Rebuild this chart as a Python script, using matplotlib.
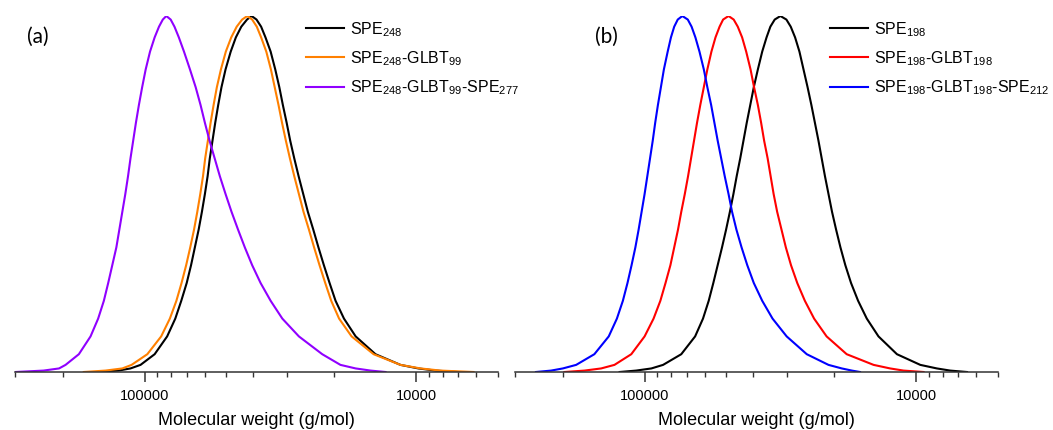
import matplotlib
matplotlib.use("Agg")
import matplotlib.pyplot as plt
from matplotlib.ticker import FixedLocator, FuncFormatter, LogLocator, NullFormatter
import numpy as np

plt.rcParams["font.family"] = "Liberation Sans"
plt.rcParams["mathtext.fontset"] = "custom"
plt.rcParams["mathtext.rm"] = "Liberation Sans"
plt.rcParams["mathtext.it"] = "Liberation Sans:italic"

# normalised intensity levels at which every trace was read (rising side, peak, falling side)
levels = [0, 0.004, 0.01, 0.02, 0.05, 0.1, 0.15, 0.2, 0.25, 0.3, 0.35, 0.4, 0.45, 0.5, 0.55, 0.6, 0.65,
          0.7, 0.75, 0.8, 0.85, 0.9, 0.94, 0.97, 0.99,
          1.0,
          0.99, 0.97, 0.94, 0.9, 0.85, 0.8, 0.75, 0.7, 0.65, 0.6, 0.55, 0.5, 0.45, 0.4, 0.35, 0.3, 0.25,
          0.2, 0.15, 0.1, 0.05, 0.02, 0.01, 0.004, 0]

# log10(M), panel (a)
logm_spe248 = [5.162, 5.096, 5.052, 5.015, 4.963, 4.917, 4.887, 4.865, 4.845, 4.829, 4.815, 4.801, 4.789,
               4.778, 4.768, 4.760, 4.750, 4.740, 4.729, 4.717, 4.702, 4.683, 4.664, 4.644, 4.623,
               4.606,
               4.588, 4.571, 4.555, 4.536, 4.519, 4.504, 4.491, 4.477, 4.464, 4.449, 4.433, 4.416, 4.399,
               4.379, 4.360, 4.340, 4.319, 4.297, 4.266, 4.223, 4.150, 4.058, 3.992, 3.929, 3.848]
logm_spe248_glbt99 = [5.224, 5.144, 5.082, 5.048, 4.990, 4.939, 4.907, 4.883, 4.864, 4.847, 4.832, 4.818, 4.806,
                      4.795, 4.785, 4.777, 4.767, 4.757, 4.746, 4.734, 4.719, 4.701, 4.681, 4.661, 4.641,
                      4.622,
                      4.604, 4.587, 4.571, 4.552, 4.535, 4.521, 4.507, 4.494, 4.480, 4.465, 4.449, 4.432, 4.415,
                      4.395, 4.376, 4.356, 4.335, 4.313, 4.284, 4.238, 4.157, 4.058, 3.984, 3.911, 3.789]
logm_spe248_glbt99_spe277 = [5.475, 5.372, 5.315, 5.291, 5.242, 5.199, 5.171, 5.150, 5.134, 5.119, 5.104, 5.093, 5.082,
                             5.071, 5.061, 5.052, 5.042, 5.032, 5.021, 5.009, 4.996, 4.980, 4.963, 4.947, 4.933,
                             4.920,
                             4.904, 4.890, 4.874, 4.855, 4.833, 4.812, 4.794, 4.778, 4.761, 4.742, 4.723, 4.702, 4.680,
                             4.656, 4.631, 4.604, 4.573, 4.536, 4.493, 4.432, 4.346, 4.279, 4.223, 4.168, 4.113]

# panel (b)
logm_spe198 = [5.092, 5.031, 4.975, 4.932, 4.865, 4.814, 4.785, 4.764, 4.747, 4.731, 4.715, 4.700, 4.686,
               4.673, 4.661, 4.648, 4.636, 4.624, 4.611, 4.598, 4.583, 4.567, 4.551, 4.537, 4.521,
               4.500,
               4.478, 4.462, 4.446, 4.430, 4.415, 4.400, 4.386, 4.373, 4.360, 4.348, 4.336, 4.323, 4.310,
               4.295, 4.279, 4.261, 4.240, 4.214, 4.182, 4.139, 4.071, 3.985, 3.924, 3.875, 3.813]
logm_spe198_glbt198 = [5.295, 5.221, 5.160, 5.111, 5.049, 5.000, 4.967, 4.942, 4.923, 4.905, 4.891, 4.877, 4.865,
                       4.852, 4.840, 4.829, 4.818, 4.807, 4.795, 4.782, 4.769, 4.754, 4.739, 4.724, 4.711,
                       4.691,
                       4.672, 4.657, 4.641, 4.626, 4.610, 4.597, 4.583, 4.571, 4.560, 4.547, 4.536, 4.525, 4.512,
                       4.496, 4.480, 4.461, 4.438, 4.410, 4.376, 4.330, 4.256, 4.157, 4.096, 4.047, 3.973]
logm_spe198_glbt198_spe212 = [5.400, 5.344, 5.301, 5.252, 5.185, 5.132, 5.102, 5.080, 5.063, 5.048, 5.034, 5.022, 5.011,
                              5.000, 4.990, 4.980, 4.970, 4.961, 4.951, 4.940, 4.929, 4.915, 4.903, 4.891, 4.878,
                              4.861,
                              4.841, 4.827, 4.813, 4.798, 4.782, 4.769, 4.755, 4.743, 4.731, 4.718, 4.705, 4.691, 4.678,
                              4.662, 4.643, 4.622, 4.598, 4.567, 4.529, 4.477, 4.403, 4.323, 4.274, 4.237, 4.207]

panels = [
    ("(a)", [
        (logm_spe248, "black", r"SPE$_{248}$"),
        (logm_spe248_glbt99, "#ff8000", r"SPE$_{248}$-GLBT$_{99}$"),
        (logm_spe248_glbt99_spe277, "#9000ff", r"SPE$_{248}$-GLBT$_{99}$-SPE$_{277}$"),
    ]),
    ("(b)", [
        (logm_spe198, "black", r"SPE$_{198}$"),
        (logm_spe198_glbt198, "#ff0000", r"SPE$_{198}$-GLBT$_{198}$"),
        (logm_spe198_glbt198_spe212, "#0000ff", r"SPE$_{198}$-GLBT$_{198}$-SPE$_{212}$"),
    ]),
]

W, H = 1053, 430
fig = plt.figure(figsize=(W / 100, H / 100), dpi=100)

axes_left = [15, 515]
axes_width = 483
legend_left = [306, 830]
label_left = [27, 595]

for i, (tag, series) in enumerate(panels):
    ax = fig.add_axes([axes_left[i] / W, 58 / H, axes_width / W, (372 - 16) / H])
    for logm, color, label in series:
        ax.plot(10 ** np.array(logm), levels, color=color, lw=1.5, label=label, solid_joinstyle="round")
    ax.set_xscale("log")
    ax.set_xlim(3e5, 5e3)
    ax.set_ylim(0, 1.0)
    ax.xaxis.set_major_locator(FixedLocator([1e5, 1e4]))
    ax.xaxis.set_major_formatter(FuncFormatter(lambda v, p: f"{v:.0f}"))
    ax.xaxis.set_minor_locator(LogLocator(base=10, subs=np.arange(2, 10)))
    ax.xaxis.set_minor_formatter(NullFormatter())
    ax.tick_params(axis="x", which="major", direction="out", length=7, width=1.1, color="#333333",
                   labelsize=10.5, pad=5)
    ax.tick_params(axis="x", which="minor", direction="out", length=3.5, width=1.0, color="#333333")
    ax.set_yticks([])
    for s in ["left", "right", "top"]:
        ax.spines[s].set_visible(False)
    ax.spines["bottom"].set_color("#333333")
    ax.spines["bottom"].set_linewidth(1.1)
    ax.set_xlabel("Molecular weight (g/mol)", fontsize=13, labelpad=7)
    ax.patch.set_alpha(0)

    ax.legend(loc="upper left", bbox_to_anchor=(legend_left[i] / W, 1 - 20 / H),
              bbox_transform=fig.transFigure, frameon=False, fontsize=11.5,
              handlelength=2.4, handletextpad=0.35, labelspacing=0.65,
              borderpad=0, borderaxespad=0)
    fig.text(label_left[i] / W, 1 - 37 / H, tag, fontsize=15, family="Lato", va="center", ha="left")

fig.savefig("out.png", dpi=100)
